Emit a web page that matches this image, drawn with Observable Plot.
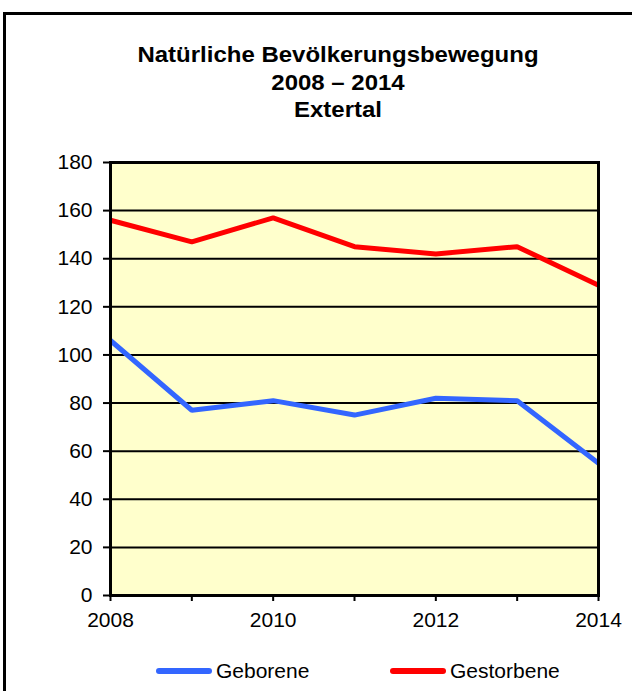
<!DOCTYPE html>
<html>
<head>
<meta charset="utf-8">
<script src="https://cdn.jsdelivr.net/npm/d3@7"></script>
<script src="https://cdn.jsdelivr.net/npm/@observablehq/plot@0.6"></script>
<style>
  html, body { margin: 0; padding: 0; background: #fff; }
  #wrap { position: relative; width: 632px; height: 691px; overflow: hidden; font-family: "Liberation Sans", Arial, sans-serif; color: #000; }
  #border { position: absolute; left: 3px; top: 12px; width: 700px; height: 800px; border: 3px solid #000; box-sizing: border-box; }
  #title { position: absolute; left: 0; width: 676px; top: 41px; text-align: center; font-weight: bold; font-size: 22px; line-height: 27.5px; transform: scaleX(1.09); transform-origin: 338px 0; }
  #chart { position: absolute; left: 0; top: 140px; }
  .leg { position: absolute; top: 659px; height: 24px; display: flex; align-items: center; font-size: 21px; }
  .sw { width: 56px; height: 6px; border-radius: 3px; margin-right: 4px; }
</style>
</head>
<body>
<div id="wrap">
  <div id="border"></div>
  <div id="title">Natürliche Bevölkerungsbewegung<br>2008 – 2014<br>Extertal</div>
  <div id="chart"></div>
  <div id="legend"></div>
</div>
<script>
const years = [2008, 2009, 2010, 2011, 2012, 2013, 2014];
const geborene = [106, 77, 81, 75, 82, 81, 55];
const gestorbene = [156, 147, 157, 145, 142, 145, 129];
const seriesNames = ["Geborene", "Gestorbene"];
const seriesColors = ["#3366FF", "#FF0000"];
const yTicks = [0, 20, 40, 60, 80, 100, 120, 140, 160, 180];
const xTickLabels = [2008, 2010, 2012, 2014];

const rows = [];
years.forEach((y, i) => rows.push({year: y, value: geborene[i], series: seriesNames[0]}));
years.forEach((y, i) => rows.push({year: y, value: gestorbene[i], series: seriesNames[1]}));

const chart = Plot.plot({
  width: 632,
  height: 500,
  marginLeft: 110,
  marginRight: 34,
  marginTop: 22,
  marginBottom: 45,
  style: {fontFamily: "'Liberation Sans', Arial, sans-serif", fontSize: "21px", color: "#000", background: "transparent", overflow: "visible"},
  x: {domain: [2008, 2014], label: null},
  y: {domain: [0, 180], label: null},
  color: {domain: seriesNames, range: seriesColors},
  marks: [
    Plot.frame({fill: "#FFFFCC", stroke: null}),
    Plot.ruleY(yTicks, {stroke: "#000", strokeWidth: 2}),
    Plot.line(rows, {x: "year", y: "value", z: "series", stroke: "series", strokeWidth: 5, strokeLinejoin: "miter", strokeLinecap: "butt"}),
    Plot.frame({stroke: "#000", strokeWidth: 3}),
    Plot.axisY({ticks: yTicks, label: null, tickSize: 7, tickPadding: 11, strokeWidth: 2, fontSize: 21, tickFormat: d => String(d)}),
    Plot.axisX({ticks: years, label: null, tickSize: 6, tickPadding: 11, strokeWidth: 2, fontSize: 21, tickFormat: d => xTickLabels.includes(d) ? String(d) : ""})
  ]
});
document.getElementById("chart").appendChild(chart);

const legend = document.getElementById("legend");
const legX = [156, 390];
seriesNames.forEach((name, i) => {
  const item = document.createElement("div");
  item.className = "leg";
  item.style.left = legX[i] + "px";
  const sw = document.createElement("div");
  sw.className = "sw";
  sw.style.background = seriesColors[i];
  const label = document.createElement("span");
  label.textContent = name;
  item.appendChild(sw);
  item.appendChild(label);
  legend.appendChild(item);
});
</script>
</body>
</html>
